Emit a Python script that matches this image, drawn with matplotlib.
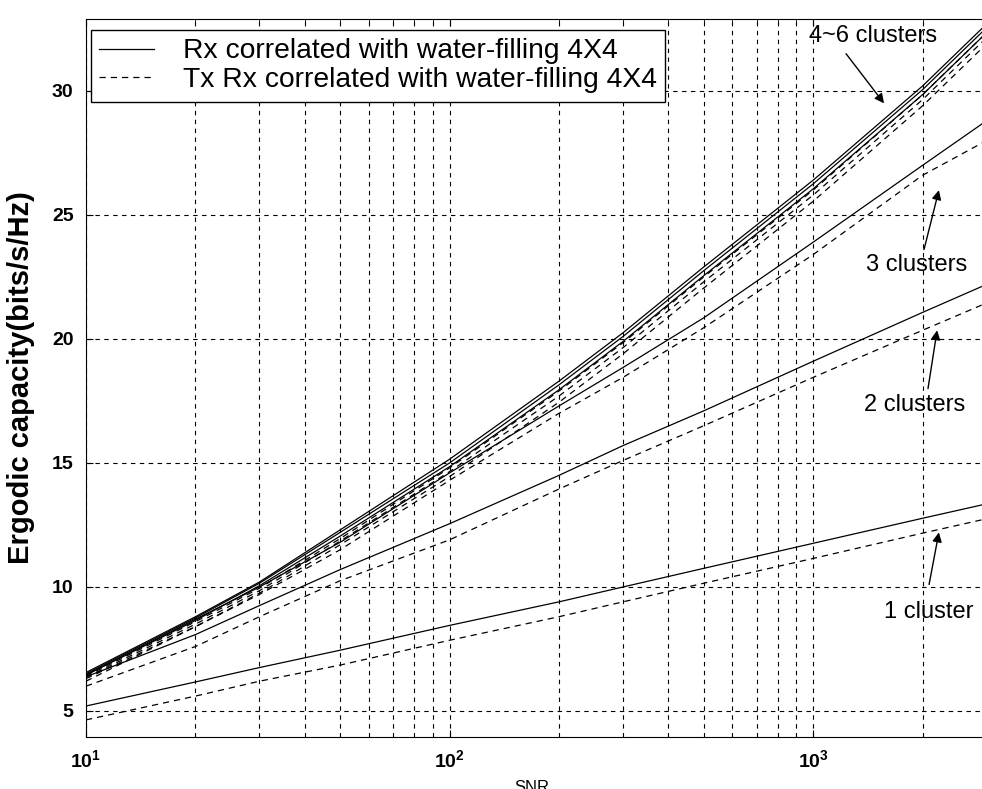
import numpy as np
import matplotlib
matplotlib.use('Agg')
import matplotlib.pyplot as plt

plt.rcParams['font.family'] = ['Liberation Sans', 'DejaVu Sans']
plt.rcParams['mathtext.fontset'] = 'custom'
plt.rcParams['mathtext.rm'] = 'Liberation Sans'
plt.rcParams['mathtext.bf'] = 'Liberation Sans:bold'

# SNR sample points (linear scale)
snr = [10, 20, 30, 50, 100, 200, 300, 500, 1000, 2000, 3000]

# 4~6 clusters bundle
c6_solid = [6.55, 8.80, 10.20, 12.30, 15.15, 18.30, 20.25, 22.90, 26.40, 30.20, 32.70]
c5_solid = [6.50, 8.75, 10.15, 12.20, 15.00, 18.15, 20.10, 22.75, 26.25, 30.05, 32.55]
c4_solid = [6.45, 8.65, 10.05, 12.05, 14.85, 17.95, 19.90, 22.55, 26.05, 29.85, 32.35]
c6_dash = [6.40, 8.60, 9.95, 11.95, 14.80, 17.90, 19.85, 22.50, 26.00, 29.85, 32.35]
c5_dash = [6.35, 8.50, 9.85, 11.85, 14.65, 17.70, 19.65, 22.30, 25.80, 29.65, 32.15]
c4_dash = [6.30, 8.40, 9.75, 11.70, 14.45, 17.45, 19.40, 22.05, 25.55, 29.40, 31.90]

# 3 clusters
c3_solid = [6.45, 8.70, 10.00, 11.80, 14.60, 17.30, 18.85, 20.85, 23.90, 27.00, 28.80]
c3_dash = [6.20, 8.40, 9.70, 11.50, 14.30, 17.00, 18.45, 20.45, 23.40, 26.60, 28.00]

# 2 clusters
c2_solid = [6.38, 8.08, 9.25, 10.70, 12.55, 14.50, 15.70, 17.10, 19.10, 21.07, 22.20]
c2_dash = [6.00, 7.60, 8.80, 10.25, 11.90, 13.95, 15.10, 16.50, 18.45, 20.35, 21.45]

# 1 cluster
c1_solid = [5.20, 6.17, 6.75, 7.45, 8.45, 9.40, 10.00, 10.75, 11.76, 12.77, 13.35]
c1_dash = [4.64, 5.60, 6.20, 6.85, 7.85, 8.80, 9.40, 10.15, 11.15, 12.17, 12.75]

solid_curves = [c6_solid, c5_solid, c4_solid, c3_solid, c2_solid, c1_solid]
dash_curves = [c6_dash, c5_dash, c4_dash, c3_dash, c2_dash, c1_dash]

fig = plt.figure(figsize=(9.82, 7.89), dpi=100)
ax = fig.add_axes([0.0876, 0.0659, 0.9124, 0.91])

for i, c in enumerate(solid_curves):
    ax.plot(snr, c, 'k-', lw=0.9,
            label='Rx correlated with water-filling 4X4' if i == 0 else None)
for i, c in enumerate(dash_curves):
    ax.plot(snr, c, 'k', ls=(0, (5, 4)), lw=0.9,
            label='Tx Rx correlated with water-filling 4X4' if i == 0 else None)

ax.set_xscale('log')
ax.set_xlim(10, 2914)
ax.set_ylim(3.95, 32.9)
ax.set_yticks([5, 10, 15, 20, 25, 30])

ax.grid(True, which='both', axis='x', color='k', ls=(0, (4, 4)), lw=0.8)
ax.grid(True, which='major', axis='y', color='k', ls=(0, (4, 4)), lw=0.8)
ax.tick_params(which='both', direction='in', top=True, labelsize=14)
ax.tick_params(which='major', length=5, pad=9)
ax.tick_params(which='minor', length=3)
ax.spines['right'].set_visible(False)
for lbl in ax.get_yticklabels() + ax.get_xticklabels():
    lbl.set_fontweight('bold')

ax.set_ylabel('Ergodic capacity(bits/s/Hz)', fontsize=21, fontweight='bold',
              labelpad=12)
fig.text(0.542, 0.012, 'SNR', ha='center', va='top', fontsize=12)

leg = ax.legend(loc='upper left', bbox_to_anchor=(91 / 982, 1 - 30 / 789),
                bbox_transform=fig.transFigure, borderaxespad=0,
                fontsize=20.3, fancybox=False, framealpha=1, edgecolor='k',
                handlelength=1.95, handletextpad=1.0, borderpad=0.3,
                labelspacing=0.1)
leg.get_frame().set_linewidth(1.0)

arrow = dict(arrowstyle='-|>', color='k', lw=1, mutation_scale=14,
             shrinkA=0, shrinkB=0)
ax.text(975, 32.2, '4~6 clusters', fontsize=17, ha='left', va='center')
ax.annotate('', xy=(1567, 29.5), xytext=(1232, 31.5), arrowprops=arrow)
ax.text(1932, 23.0, '3 clusters', fontsize=17, ha='center', va='center')
ax.annotate('', xy=(2218, 26.0), xytext=(2018, 23.6), arrowprops=arrow)
ax.text(1906, 17.34, '2 clusters', fontsize=17, ha='center', va='center')
ax.annotate('', xy=(2193, 20.35), xytext=(2070, 18.0), arrowprops=arrow)
ax.text(2084, 9.0, '1 cluster', fontsize=17, ha='center', va='center')
ax.annotate('', xy=(2218, 12.2), xytext=(2084, 10.1), arrowprops=arrow)

fig.savefig('out.png', dpi=100)
